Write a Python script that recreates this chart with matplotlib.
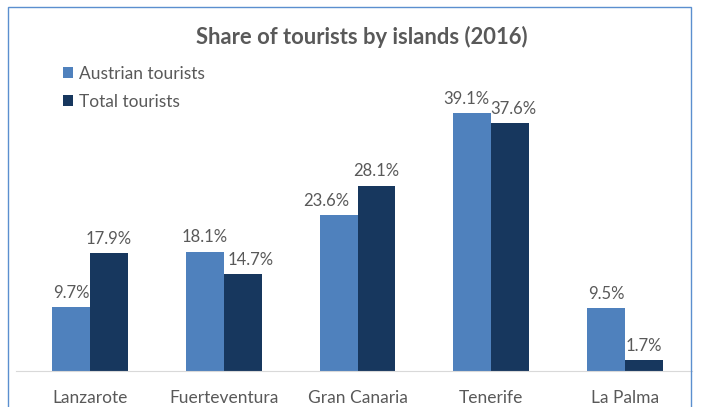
import matplotlib.pyplot as plt
import matplotlib.patches as mpatches
import numpy as np

islands = ['Lanzarote', 'Fuerteventura', 'Gran Canaria', 'Tenerife', 'La Palma']
austrian = [9.7, 18.1, 23.6, 39.1, 9.5]
total = [17.9, 14.7, 28.1, 37.6, 1.7]

c_aut = '#4F81BD'
c_tot = '#17375E'
txt = '#595959'

plt.rcParams['font.family'] = ['Lato', 'DejaVu Sans']

W, H = 706, 407
fig = plt.figure(figsize=(W / 100, H / 100), dpi=100)
ax = fig.add_axes([23 / W, 1 - 371 / H, 669 / W, (371 - 74) / H])

x = np.arange(len(islands))
bw = 0.284
b1 = ax.bar(x - bw / 2, austrian, bw, color=c_aut, label='Austrian tourists')
b2 = ax.bar(x + bw / 2, total, bw, color=c_tot, label='Total tourists')

# small sideways nudges (points) so neighbouring labels don't collide
nudge = {(0, 2): -9, (0, 3): -4, (1, 1): 6, (1, 3): 2}
for k, (bars, vals) in enumerate(((b1, austrian), (b2, total))):
    for i, (b, v) in enumerate(zip(bars, vals)):
        ax.annotate(f'{v:.1f}%', (b.get_x() + b.get_width() / 2, v),
                    xytext=(nudge.get((k, i), 0), 4.5), textcoords='offset points',
                    ha='center', va='bottom', fontsize=12, color=txt)

ax.set_xlim(-0.5, 4.5)
ax.set_ylim(0, 45)
ax.set_xticks(x)
ax.set_xticklabels(islands, fontsize=12.5, color=txt)
ax.tick_params(axis='x', length=0, pad=14)
ax.set_yticks([])
for s in ('top', 'right', 'left'):
    ax.spines[s].set_visible(False)
ax.spines['bottom'].set_color('#D9D9D9')
ax.spines['bottom'].set_bounds(-0.55, 4.5)
ax.patch.set_alpha(0)

fig.text(362 / W, 1 - 37 / H, 'Share of tourists by islands (2016)',
         ha='center', va='center', fontsize=15.8, fontweight='bold', color=txt)

fig.legend(handles=[b1, b2], loc='upper left', bbox_to_anchor=(47 / W, 1 - 50 / H),
           frameon=False, fontsize=12.5, labelcolor=txt, handlelength=0.6,
           handleheight=0.6, handletextpad=0.35, labelspacing=0.7)

border = mpatches.Rectangle((8 / W, -0.1), (691 - 8) / W, 1.1 - 7 / H,
                            transform=fig.transFigure, fill=False,
                            edgecolor='#5B8FCF', linewidth=1.0)
fig.patches.append(border)

fig.savefig('out.png', dpi=100)
